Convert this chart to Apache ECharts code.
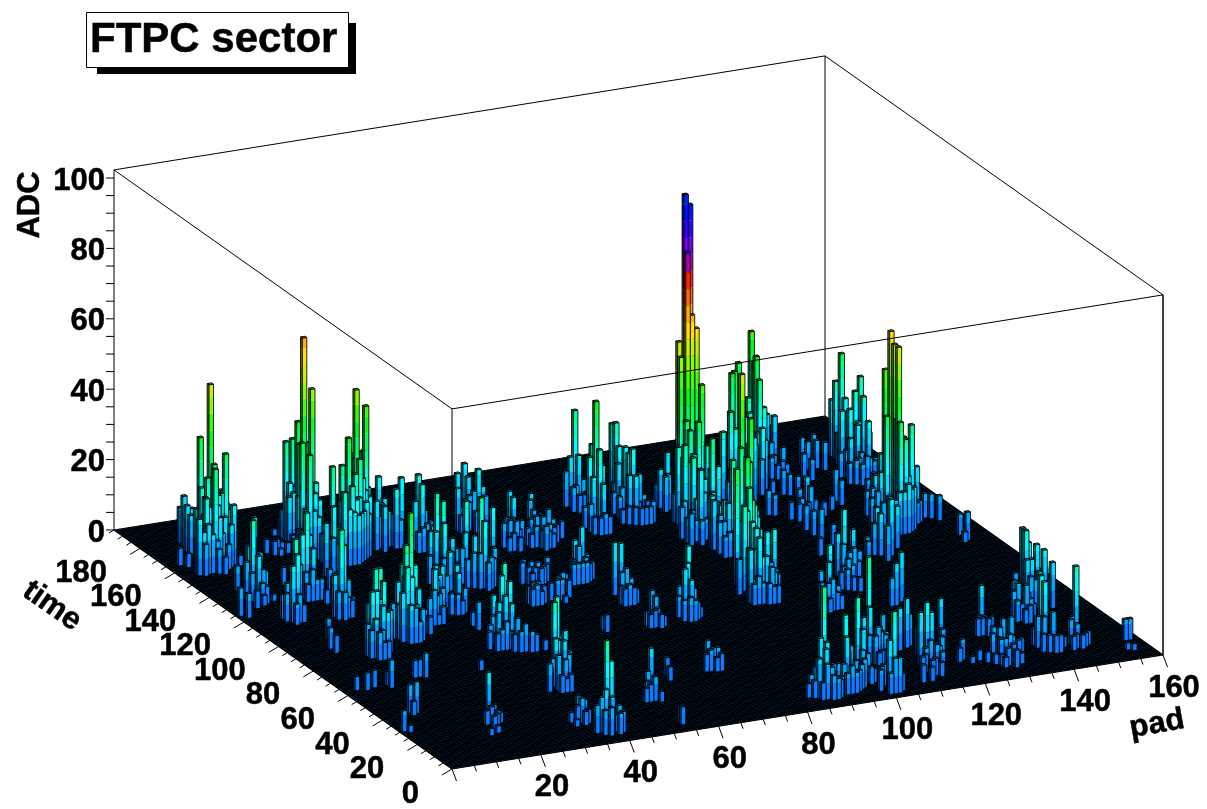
<!DOCTYPE html>
<html><head><meta charset="utf-8">
<style>html,body{margin:0;padding:0;background:#fff}#c{width:1207px;height:809px}</style>
<script src="https://cdn.jsdelivr.net/npm/echarts@6/dist/echarts.min.js"></script></head>
<body><div id="c"></div>
<script>
// ---------- values ----------
var titleText = 'FTPC sector';
var padMax = 160, timeMax = 195, adcMax = 102.3, timeBins = 180;
var padLabels = [20,40,60,80,100,120,140,160];
var timeLabels = [0,20,40,60,80,100,120,140,160,180];
var adcLabels = [0,20,40,60,80,100];
// each hit: [pad bin, time bin, ADC]
var hitsLeft = [
[9,164,14],[9,166,10],[8,160,13],[3,152,5],[4,150,4],[9,150,51],[8,153,35],[9,148,29],[8,145,29],[6,145,21],[12,149,31],[12,151,20],[13,147,17],[4,145,10],[4,144,16],[5,143,9],[9,145,15],[9,147,14],[8,143,7],[9,142,5],[11,145,7],[14,146,3],
[5,144,12],[6,144,14],[7,144,11],[8,144,9],[6,146,16],[7,146,18],[7,148,20],[8,149,25],[7,150,22],[9,146,18],[10,146,10],[10,148,20],[10,150,24],[9,152,20],[8,155,14],[9,156,10],[8,158,11],[9,160,12],[11,147,14],[11,149,20],[12,146,12],[13,149,15],[12,153,12],[13,151,16],
[30,150,60],[31,148,46],[30,153,35],[30,156,29],[29,157,28],[28,146,32],[28,142,30],[29,155,17],[30,151,19],[29,153,15],[30,157,9],[29,160,5],[28,161,2],[22,151,4],[23,149,4],[24,148,2],[28,151,4],[32,148,14],[34,150,6],
[29,148,22],[30,147,24],[31,146,20],[29,146,18],[30,144,18],[29,144,20],[31,144,16],[28,148,16],[28,144,14],[27,145,8],[29,142,14],[30,142,12],[30,140,8],[31,142,10],[32,146,12],[32,144,8],[31,150,30],[29,150,30],[28,153,14],[31,153,20],[30,155,16],[32,151,14],[33,148,10],[29,159,8],[24,150,4],[25,150,3],[26,149,3],
[31,137,28],[34,139,27],[35,138,35],[36,140,30],[38,141,47],[41,143,41],[43,150,25],[42,146,27],[38,142,27],[37,139,24],[27,131,15],[30,134,18],[32,133,22],[36,138,15],[42,149,4],[44,149,15],[37,145,4],[39,145,5],[42,147,6],
[33,135,14],[34,135,16],[35,135,15],[36,135,14],[31,134,12],[32,135,12],[33,137,18],[35,136,22],[36,136,18],[37,136,14],[37,137,18],[38,137,14],[39,138,16],[39,140,22],[40,141,18],[38,139,28],[40,139,12],[41,141,16],[34,137,20],[36,142,18],[35,140,20],[28,133,10],[29,132,10],[30,132,8],
[46,148,18],[43,142,14],[44,140,13],[47,141,17],[49,143,19],[47,144,5],[44,143,9],[45,142,10],[46,143,10],[45,144,12],[47,143,9],[48,141,8],[46,145,13],
[8,125,22],[10,129,21],[9,130,13],[9,124,11],[7,131,7],[1,115,8],[2,113,7],[7,123,8],[6,118,5],[8,119,3],[11,121,2],[8,122,13],[9,122,9],[10,123,8],[8,120,6],[9,127,16],[8,127,14],[10,126,12],[7,126,10],[9,120,5],
[10,107,23],[18,120,24],[19,119,14],[10,105,8],[9,109,10],[17,118,8],[20,119,2],[17,130,5],[9,106,16],[10,106,19],[9,104,6],[11,105,5],[8,107,8],[11,107,6],[8,109,7],
[16,119,10],[17,120,18],[19,121,17],[18,122,18],[17,122,12],[20,121,10],[18,117,9],[19,117,6],[20,117,6],[17,117,5],
[19,104,25],[20,105,20],[20,107,10],[20,103,6],[20,114,4],[24,122,6],[19,102,8],[18,103,8],[21,103,5],[18,105,12],[21,105,10],[19,106,12],[20,109,9],[22,105,5],[19,108,10],
[17,81,23],[18,81,23],[17,79,15],[14,78,9],[15,76,11],[16,75,8],[17,74,5],[15,78,18],[16,78,18],[17,77,14],[18,77,12],[18,79,20],[14,76,8],[15,74,8],[16,74,5],[19,78,12],[15,80,14],
[11,92,6],[9,86,6],[9,83,5],[3,58,4],[5,57,5],[7,58,5],[10,56,8],[10,58,4],[19,59,7],[18,60,5],[17,60,5],[8,38,9],[7,39,8],[7,37,4],[1,28,6],[2,27,2],
[27,86,35],[26,86,26],[25,84,18],[25,83,21],[27,83,10],[24,88,9],[28,82,9],[31,88,6],[35,92,15],[35,91,8],[35,90,3],
[24,83,14],[25,81,11],[26,81,10],[26,83,18],[27,81,6],[28,84,14],[26,88,20],[28,86,20],[23,86,10],[24,85,10],[25,88,15],[27,88,15],[22,85,6],
[33,90,8],[34,90,10],[36,90,5],[35,93,10],[36,92,8],[30,86,5],[31,85,5],[29,85,6]
];
var hitsMiddle = [
[52,141,20],[52,139,18],[50,138,14],[56,144,5],[53,144,4],[50,136,6],[51,136,7],[52,136,8],[53,137,6],[51,140,12],[53,140,10],[54,142,6],
[46,117,25],[47,116,23],[46,119,15],[46,113,18],[49,116,12],[48,124,8],[45,115,15],[44,116,8],[46,114,13],[47,113,10],[48,114,9],[49,113,6],[45,118,14],[48,119,15],[47,120,14],
[67,152,16],[65,151,14],[67,150,13],[68,147,16],[69,147,11],[63,146,12],[68,143,10],[65,145,8],[64,147,6],[65,147,8],[66,147,9],[67,147,10],[68,145,8],[69,145,6],[66,143,6],[67,143,6],[63,144,5],[64,144,6],
[53,110,25],[53,108,19],[53,118,21],[52,116,13],[52,111,14],[59,118,18],[51,109,10],[52,108,10],[53,106,8],[54,107,9],[55,108,8],[56,110,10],[50,110,8],[50,113,10],[54,110,14],[55,112,12],[56,115,12],[57,117,12],[58,115,8],[51,118,8],
[39,101,12],[42,97,13],[42,96,11],[45,111,9],[46,110,11],[35,95,4],[39,97,3],[38,98,9],[39,99,10],[40,95,6],[41,94,6],[42,94,4],[43,95,7],[37,95,5],[38,95,8],[40,100,12],[41,100,9],
[70,135,14],[70,133,13],[67,131,7],[68,130,8],[69,129,8],[68,132,8],[69,131,8],[70,130,5],[71,131,7],[68,128,5],[69,127,4],[67,128,4],
[75,136,10],[76,138,11],[75,134,8],[77,131,9],[75,129,8],[80,131,5],[72,130,5],[74,133,6],[74,125,7],[76,126,4],[73,128,6],[74,127,5],[75,126,5],[76,128,6],[77,128,5],[78,129,5],[72,128,4],[78,131,6],[76,133,7],[74,130,8],
[62,109,6],[63,107,6],[64,106,6],[67,108,6],[58,94,6],[58,92,6],[59,92,4],[61,107,6],[62,106,5],[63,105,5],[64,104,5],[65,105,5],[66,106,5],[62,104,4],[57,92,5],[57,94,5],[60,93,5],[59,94,6],
[64,95,6],[65,95,7],[64,91,2],[62,94,5],[63,93,6],[64,93,6],[66,94,5],[66,96,6],
[72,105,11],[74,106,14],[71,104,6],[71,103,6],[74,104,6],[76,108,2],[70,101,6],[71,101,6],[72,101,6],[73,101,6],[74,102,5],[75,103,5],[73,107,10],[72,103,10],[75,106,6],
[91,150,27],[91,148,15],[90,147,7],[89,134,36],[89,136,23],[89,132,23],[88,133,15],[88,137,5],[88,131,3],[89,146,7],[90,145,5],[91,145,5],[92,146,5],[92,148,8],[90,150,14],[89,150,10],
[87,130,5],[88,129,5],[89,129,6],[90,129,5],[90,131,5],[87,135,6],[90,133,18],[87,132,8],[88,135,20],[90,135,16],[89,130,14],
[99,149,22],[99,147,23],[99,142,18],[98,143,18],[99,138,19],[99,140,17],[97,135,13],[98,134,13],[97,143,8],[97,139,8],[99,135,5],[100,133,3],
[97,132,5],[98,131,5],[99,131,5],[100,131,5],[101,132,6],[101,135,5],[96,133,5],[95,134,4],[100,137,12],[100,140,10],[96,138,6],[96,141,6],[98,137,10],[97,141,14],[101,137,6],
[43,46,23],[42,45,22],[41,42,13],[44,44,14],[40,38,10],[38,38,8],[40,36,5],[42,43,12],[43,42,12],[44,42,8],[41,40,8],[42,39,8],[39,40,6],[40,41,8],[44,46,12],[45,44,8],[42,36,5],[41,36,4],
[43,74,22],[42,73,19],[43,71,18],[41,75,13],[42,71,14],[40,70,10],[41,83,8],[41,86,4],[43,67,9],[44,65,8],[45,64,6],[46,64,5],[48,64,3],[42,68,5],[39,72,6],
[40,73,8],[41,72,12],[43,70,12],[44,72,10],[44,69,8],[40,68,6],[41,68,8],[42,66,5],[43,65,6],[39,68,5],[38,70,5],
[75,91,15],[76,90,15],[75,87,8],[76,87,9],[74,85,5],[76,85,5],[74,83,5],[75,83,6],[76,83,5],[77,84,4],[77,87,6],
[75,71,9],[75,69,8],[75,68,5],[73,69,4],[73,67,4],[74,67,5],[75,66,4],[76,67,3],
[84,73,19],[83,71,15],[82,70,14],[83,69,11],[64,69,5],[64,71,4],[81,68,6],[82,67,7],[83,67,6],[84,68,5],[84,70,8],[85,69,3],[81,71,6],[85,72,5],[82,73,8],
[39,10,25],[40,10,19],[42,14,8],[37,6,7],[40,7,5],[40,15,7],[44,15,4],[38,5,8],[37,8,10],[38,8,12],[39,7,10],[40,5,6],[41,6,6],[36,8,8],[41,8,7],[42,9,5],[38,11,6],
[36,18,7],[37,17,6],[34,17,3],[36,14,4],[34,14,2],[35,16,5],[37,15,4],[36,16,7],
[20,28,13],[19,27,3],[20,25,5],[16,17,2],[18,18,2],[31,58,3],[19,24,5],[18,24,4],[20,23,4],[21,24,3],[18,20,4],[19,21,4],
[57,29,12],[54,24,5],[55,22,7],[55,26,7],[64,37,5],[63,33,4],[54,6,5],[54,5,5],[53,22,4],[54,22,5],[56,21,3],[56,24,4],
[74,39,7],[74,36,6],[73,37,3],[72,35,5],[73,35,6],[75,34,5],[75,36,6],[74,34,4]
];
var hitsPeak = [
[107,129,93],[108,129,90],[107,128,77],[108,128,59],[109,128,55],[106,130,51],[106,129,47],
[108,134,27],[107,122,31],[104,122,25],[105,125,20],[105,120,22],[105,116,20],[108,136,6],[105,118,11],[102,119,9],[104,113,7],[102,114,9],
[105,122,20],[106,122,22],[107,121,18],[108,121,15],[106,120,16],[107,119,12],[108,119,10],[109,120,18],[109,122,24],[110,122,14],[103,120,10],[104,118,8],[103,117,6],[104,116,6],[106,116,6],[107,116,6],[102,116,7],[109,118,7],[106,124,28],[106,126,30],[105,128,22],[108,132,24],[109,125,40],[109,130,20],
[108,141,15],[106,140,11],[107,138,10],[106,137,10],[106,142,6],[105,130,8],
[132,153,40],[131,148,35],[131,149,33],[130,144,30],[127,148,34],[124,143,34],[123,142,34],[110,106,50],[127,142,22],[121,138,25],[118,135,21],[128,145,25],[125,135,18],[108,117,28],
[120,135,10],[121,134,8],[122,135,8],[123,135,9],[124,136,16],[124,139,25],[122,138,20],[125,140,22],[126,140,16],[127,139,14],[128,138,10],[118,132,8],[119,132,8],[120,132,6],[129,142,16],[129,140,18],[130,141,14],[131,144,22],[122,140,24],
[112,106,37],[104,89,34],[100,85,33],[105,90,32],[108,114,11],[111,117,7],[106,112,15],[111,121,18],[111,124,10],
[102,83,28],[103,84,24],[101,82,22],[100,81,24],[101,79,20],[104,85,22],[105,86,18],[102,80,18],[106,87,14],[99,76,14],[100,75,14],[101,74,12],[102,74,12],[103,74,10],[99,74,6],[104,74,8],[105,75,6],[100,71,6],[98,71,6],[99,71,8],[101,70,6],[102,70,5],[103,70,5],
[109,104,30],[110,104,24],[111,104,18],[108,106,26],[107,106,14],[107,108,14],[107,110,12],[106,108,10],[109,102,12],[110,102,10],[111,102,10],[112,103,12],[108,102,10],[105,103,6],[106,103,7],[107,103,7],
[138,159,13],[138,155,14],[136,152,8],[137,148,8],[133,148,9],[137,146,4],[132,136,7],[133,135,6],[134,133,6],[130,137,4],[135,148,6],[134,147,6],[136,146,5],[135,146,4],
[143,152,8],[146,153,8],[143,149,8],[145,149,8],[140,144,7],[141,142,6],[146,147,8],
[151,150,31],[151,153,22],[154,147,25],[152,145,22],[153,143,21],[151,148,19],[151,155,16],[149,145,17],[150,143,18],[150,149,9],[151,146,16],[151,141,15],[152,138,16],[148,140,8],[149,136,7],[150,137,8],[152,138,6],
[147,136,6],[148,135,7],[149,134,6],[150,134,8],[151,135,7],[152,135,6],[153,137,6],[148,138,12],[150,139,15],[153,140,12],[147,141,7],
[144,107,55],[144,105,52],[144,103,52],[144,110,43],[143,107,31],[144,104,31],[144,102,31],[149,108,27],[148,109,22],[149,112,22],[146,117,16],[145,110,15],[147,107,15],[151,110,14],[146,121,9],[146,124,6],[152,112,8],
[142,100,10],[143,100,12],[144,100,12],[145,100,14],[146,101,12],[147,102,12],[142,103,10],[141,104,8],[141,107,10],[146,104,25],[146,107,20],[145,106,20],[147,105,14],[148,105,10],[149,105,6],[150,106,6],[143,110,14],[142,112,9],[143,113,12],[147,112,14],[145,113,10],[141,110,7],[142,115,7],
[153,107,7],[152,108,7],[154,105,7],
[131,121,11],[131,125,6],[129,117,4],[131,119,9],[124,125,7],[125,124,6],[127,120,5],[128,118,5],[129,119,6],[130,118,5],[132,119,5],
[140,127,9],[140,124,7],[137,122,4],[134,119,4],
[101,77,19],[103,76,18],[105,77,18],[100,73,18],[98,73,15],[102,71,10],[103,72,8],[98,79,10],
[105,106,9],[105,109,14],[105,110,15],[106,106,9]
];
var hitsRight = [
[122,80,19],[123,84,9],[119,71,6],[124,80,13],[112,64,17],[111,62,13],[90,15,28],[88,12,15],[88,9,13],[86,8,11],[88,6,9],[85,8,5],[86,6,5],[89,8,7],
[121,78,10],[122,77,8],[123,77,9],[124,77,5],[121,81,12],[125,79,7],[119,73,6],[120,73,8],[121,73,6],[118,72,5],[120,70,4],[121,69,4],
[112,60,5],[110,59,4],[110,60,8],[111,60,9],[109,61,8],[113,62,6],[113,60,4],[110,64,10],
[87,6,10],[88,5,7],[89,5,6],[90,6,5],[87,11,10],[89,11,14],[90,10,8],[86,10,8],[85,10,6],[84,9,4],[91,8,5],[90,13,12],
[94,13,20],[93,10,15],[92,9,8],[94,10,5],[98,16,23],[98,13,15],[96,12,7],
[92,7,6],[93,7,8],[94,7,6],[95,8,6],[96,9,7],[97,10,8],[92,12,7],[94,12,12],[95,14,9],[96,15,10],[99,13,8],[99,11,5],[100,12,4],[97,11,10],
[106,29,28],[105,26,15],[108,28,8],[110,31,10],[102,23,4],[104,24,8],[105,23,8],[106,24,10],[107,25,8],[108,25,7],[109,27,7],[104,27,12],[103,25,4],[106,22,4],[107,22,4],[105,21,4],
[136,88,16],[139,92,12],[134,89,12],[134,85,10],[130,86,6],
[126,59,14],[124,57,12],[123,57,8],
[115,30,14],[113,29,12],[116,31,9],[112,29,10],
[102,6,22],[101,6,14],[102,5,6],[101,3,10],[102,3,10],[103,4,5],[100,3,6],[103,7,7],[100,8,6],[101,9,6],[99,6,6],
[114,17,18],[115,17,15],[123,31,12],[113,18,15],[115,24,8],[121,25,6],[111,7,4],[109,7,5],[117,19,5],
[113,15,6],[114,15,8],[115,14,7],[116,15,6],[111,12,5],[112,13,5],[110,9,4],[112,9,5],[113,10,5],[114,9,4],[115,11,6],[117,16,8],
[133,33,13],[132,32,5],[133,31,5],[132,30,5],[133,29,5],[134,30,5],[131,30,5],
[122,17,6],[121,16,4],[123,14,2],
[132,19,9],[133,18,9],[133,17,10],[130,16,8],[129,13,6],[129,17,8],[129,9,5],[130,7,5],[125,15,3],[126,13,3],
[128,15,7],[129,14,6],[130,13,6],[131,13,7],[132,14,6],[133,13,5],[134,14,5],[127,11,3],[128,10,3],[128,8,3],[131,9,4],[132,9,3],[131,11,5],
[149,47,20],[150,51,19],[151,46,16],[151,42,16],[148,44,13],[147,48,8],[149,44,13],[152,40,13],
[149,42,8],[150,42,10],[148,42,9],[147,43,6],[146,44,6],[146,46,6],[152,44,10],[153,45,6],[150,48,16],[145,38,5],[146,39,6],
[141,20,19],[141,18,18],[139,19,5],[142,17,3],[139,14,5],[140,13,5],[141,12,5],[142,12,5],[143,14,4],[144,15,3],[143,18,6],[139,17,9],[140,16,9],[142,16,10],
[143,37,10],[144,35,10],[143,35,5],[143,39,10],[142,35,6],[144,33,5],[143,33,4],[142,37,8],[145,35,6],[146,36,4],
[148,18,21],[147,18,7],[146,13,4],[147,12,4],[145,12,4],[148,13,4],[149,14,4],[146,16,7],[147,15,6],
[157,13,6],[158,13,6],[155,7,2],[156,6,2],
[154,90,8],[154,94,6],[153,89,3],
[127,104,9],[128,100,6],[123,95,5],[127,112,7],[127,108,7],
[131,89,6],[134,91,13],[133,90,9]
];
// ---------- colour of each ADC level, low to high ----------
var bandStep = 4.75;
var bandColors = ['#0a7cff','#00a8ff','#00dcff','#00fcff','#00ffc8','#00ff90','#00ff58','#00ff20','#40ff00','#88ff00','#c8f000','#ffe000','#ffb000','#ff6c00','#ff2800','#b000b0','#7000f0','#3000ff','#0010ff','#0028f0','#0040e0'];

// one tower per bin: keep the tallest reading, draw far towers first
var byBin = {};
hitsLeft.concat(hitsMiddle, hitsRight, hitsPeak).forEach(function(h){
  var k=h[0]+'_'+h[1]; if(!byBin[k]||byBin[k][2]<h[2]) byBin[k]=h; });
var hits = Object.keys(byBin).map(function(k){return byBin[k];}).sort(function(a,b){return (b[1]-a[1])||(b[0]-a[0]);});

// oblique view of the lego box: pad, time and ADC go to one projected plane
var K = {px:711/padMax, py:114/padMax, tx:338/timeMax, ty:239/timeMax, z:3.52};
function project(pad,time,adc){ return [K.px*pad-K.tx*time, K.py*pad+K.ty*time+K.z*adc]; }
function shade(hex,f){var n=parseInt(hex.slice(1),16);return 'rgb('+Math.round((n>>16)*f)+','+Math.round(((n>>8)&255)*f)+','+Math.round((n&255)*f)+')';}
var LINE = {stroke:'#000',lineWidth:1,fill:null};
var EDGE = {stroke:'#000',lineWidth:0.85,fill:null};

function at(api,p,t,a){ return api.coord(project(p,t,a)); }
function seg(api,a,b,st){ var A=at(api,a[0],a[1],a[2]),B=at(api,b[0],b[1],b[2]);
  return {type:'line',shape:{x1:A[0],y1:A[1],x2:B[0],y2:B[1]},style:st||LINE}; }

function renderBar(params,api){
  var p=api.value(0), b=api.value(1), adc=api.value(2), w=timeMax/timeBins;
  var p0=p-0.5,p1=p+0.5,t0=(b-0.5)*w,t1=(b+0.5)*w, kids=[];
  for(var i=0;i*bandStep<adc;i++){
    var lo=i*bandStep, hi=Math.min(adc,(i+1)*bandStep), col=bandColors[Math.min(i,bandColors.length-1)];
    kids.push({type:'polygon',shape:{points:[at(api,p0,t0,lo),at(api,p1,t0,lo),at(api,p1,t0,hi),at(api,p0,t0,hi)]},style:{fill:col}});
    kids.push({type:'polygon',shape:{points:[at(api,p0,t0,lo),at(api,p0,t1,lo),at(api,p0,t1,hi),at(api,p0,t0,hi)]},style:{fill:shade(col,0.42)}});
  }
  var top=bandColors[Math.min(Math.floor(adc/bandStep),bandColors.length-1)];
  kids.push({type:'polygon',shape:{points:[at(api,p0,t0,adc),at(api,p1,t0,adc),at(api,p1,t1,adc),at(api,p0,t1,adc)]},style:{fill:shade(top,0.6),stroke:'#000',lineWidth:1}});
  kids.push({type:'polyline',shape:{points:[at(api,p0,t1,0),at(api,p0,t1,adc)]},style:EDGE});
  kids.push({type:'polyline',shape:{points:[at(api,p0,t0,0),at(api,p0,t0,adc)]},style:EDGE});
  kids.push({type:'polyline',shape:{points:[at(api,p1,t0,0),at(api,p1,t0,adc)]},style:EDGE});
  kids.push({type:'polyline',shape:{points:[at(api,p0,t1,0),at(api,p0,t0,0),at(api,p1,t0,0)]},style:EDGE});
  return {type:'group',children:kids};
}
var FLOORLINE={stroke:'#000',lineWidth:1.15,fill:null};
function renderFloor(params,api){
  var kids=[{type:'polygon',shape:{points:[at(api,0,0,0),at(api,padMax,0,0),at(api,padMax,timeMax,0),at(api,0,timeMax,0)]},style:{fill:'#052c52'}}];
  var i;
  for(i=0;i<=padMax;i++) kids.push(seg(api,[i,0,0],[i,timeMax,0],FLOORLINE));
  for(i=0;i<=timeBins;i++){var t=i*timeMax/timeBins; kids.push(seg(api,[0,t,0],[padMax,t,0],FLOORLINE));}
  return {type:'group',children:kids,silent:true};
}
function renderBack(params,api){
  var P=padMax,T=timeMax,Z=adcMax;
  return {type:'group',children:[
    seg(api,[0,T,Z],[P,T,Z]),seg(api,[P,T,0],[P,T,Z]),seg(api,[0,T,0],[0,T,Z]),
    seg(api,[0,0,0],[0,0,Z]),seg(api,[P,0,0],[P,0,Z]),seg(api,[P,T,Z],[P,0,Z]),seg(api,[0,T,Z],[0,0,Z])
  ]};
}
function renderFront(params,api){
  return {type:'group',children:[seg(api,[0,0,adcMax],[padMax,0,adcMax]),seg(api,[padMax,0,0],[padMax,0,adcMax])]};
}
var LABELFONT='bold 31px "Liberation Sans"';
function tickText(x,y,s,align){
  return {type:'text',x:x,y:y,style:{text:String(s),font:LABELFONT,fill:'#000',stroke:'#000',lineWidth:0.5,align:align||'center',verticalAlign:'middle'}};
}
function axisName(text,x,y,rot){
  return {type:'text',x:x,y:y,rotation:rot,style:{text:text,font:LABELFONT,fill:'#000',stroke:'#000',lineWidth:0.5,align:'center',verticalAlign:'middle'}};
}
function renderAxes(params,api){
  var kids=[],v,A,maj;
  for(v=0;v<=padMax;v+=5){A=at(api,v,0,0);maj=v%20===0;
    kids.push({type:'line',shape:{x1:A[0],y1:A[1],x2:A[0]+(maj?4.5:2.3),y2:A[1]+(maj?12:6)},style:LINE});}
  for(v=0;v<=timeMax;v+=5){A=at(api,0,v,0);maj=v%20===0;
    kids.push({type:'line',shape:{x1:A[0],y1:A[1],x2:A[0]-(maj?10:5),y2:A[1]+(maj?6:3)},style:LINE});}
  for(v=0;v<=100;v+=5){A=at(api,0,timeMax,v);
    kids.push({type:'line',shape:{x1:A[0],y1:A[1],x2:A[0]-8,y2:A[1]},style:LINE});}
  padLabels.forEach(function(l){A=at(api,l,0,0);kids.push(tickText(A[0]+11,A[1]+33,l));});
  timeLabels.forEach(function(l){A=at(api,0,l,0);kids.push(tickText(A[0]-33,A[1]+25,l,'right'));});
  adcLabels.forEach(function(l){A=at(api,0,timeMax,l);kids.push(tickText(A[0]-9,A[1]+3,l,'right'));});
  kids.push(axisName('ADC',30,205,Math.PI/2),axisName('time',52,606,-35*Math.PI/180),axisName('pad',1157,724,10*Math.PI/180));
  return {type:'group',children:kids};
}
function one(name,fn,z){ return {type:'custom',name:name,coordinateSystem:'cartesian2d',renderItem:fn,data:[[0]],z:z,silent:true,clip:false,animation:false,encode:{x:0,y:0}}; }

var chart=echarts.init(document.getElementById('c'),null,{renderer:'canvas'});
chart.setOption({
  animation:false,backgroundColor:'#fff',
  title:{text:titleText,left:90,top:19,padding:0,z:10,
    textStyle:{fontFamily:'Liberation Sans',fontWeight:'bold',fontSize:42,color:'#000',lineHeight:42,textBorderColor:'#000',textBorderWidth:0.5}},
  grid:{left:0,right:0,top:0,bottom:0},
  xAxis:{type:'value',min:-452,max:755,show:false},
  yAxis:{type:'value',min:-40,max:769,show:false},
  graphic:{elements:[
    {type:'rect',z:6,silent:true,shape:{x:97,y:23,width:259,height:51},style:{fill:'#000'}},
    {type:'rect',z:7,silent:true,shape:{x:86.5,y:12.5,width:262,height:55},style:{fill:'#fff',stroke:'#000',lineWidth:1}}
  ]},
  series:[
    one('box',renderBack,1),
    one('floor',renderFloor,2),
    {type:'custom',name:'hits',coordinateSystem:'cartesian2d',renderItem:renderBar,data:hits,z:3,silent:true,clip:false,progressive:0,animation:false,encode:{x:0,y:2}},
    one('front',renderFront,4),
    one('axes',renderAxes,5)
  ]
});
</script></body></html>
